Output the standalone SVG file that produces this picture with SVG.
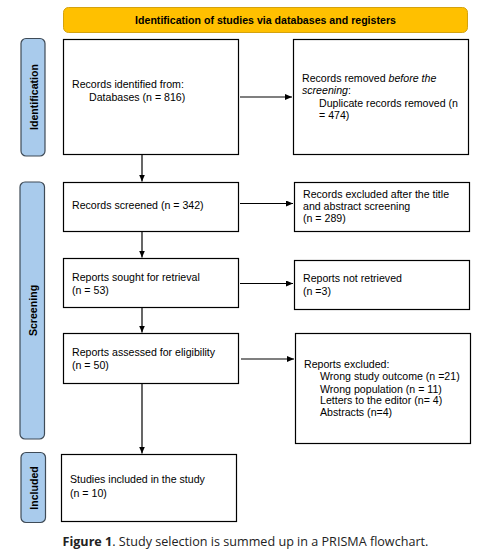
<svg xmlns="http://www.w3.org/2000/svg" width="487" height="559" viewBox="0 0 487 559">
<defs>
<style>
.box{fill:#fff;stroke:#000;stroke-width:1.2}
.side{fill:#a9cbec;stroke:#3f4b57;stroke-width:1.2}
.t{font-family:"Liberation Sans",Arial,sans-serif;font-size:10.6px;fill:#000}
.b{font-weight:bold}
.c{stroke:#000;stroke-width:1.2;fill:none;marker-end:url(#ah)}
.cap{font-family:"Open Sans","Noto Sans",sans-serif;font-size:12.6px;fill:#222}
</style>
<marker id="ah" markerWidth="7" markerHeight="6" refX="7" refY="3" orient="auto" markerUnits="userSpaceOnUse">
<path d="M0,0 L7,3 L0,6 Z" fill="#000"/>
</marker>
</defs>
<rect width="487" height="559" fill="#fff"/>
<g id="banner">
<rect x="63.5" y="7.5" width="404" height="25" rx="5" fill="#ffc000" stroke="#d4a20e" stroke-width="1"/>
<text class="t b" x="265.5" y="23.5" text-anchor="middle">Identification of studies via databases and registers</text>
</g>
<g id="lbl-identification">
<rect class="side" x="21" y="38.5" width="24" height="117.5" rx="5"/>
<text class="t b" transform="translate(37.5,97) rotate(-90)" text-anchor="middle">Identification</text>
</g>
<g id="lbl-screening">
<rect class="side" x="20" y="182" width="24.5" height="257" rx="5"/>
<text class="t b" transform="translate(36.5,310.5) rotate(-90)" text-anchor="middle">Screening</text>
</g>
<g id="lbl-included">
<rect class="side" x="21" y="452.5" width="24.5" height="70" rx="5"/>
<text class="t b" transform="translate(37.5,488) rotate(-90)" text-anchor="middle">Included</text>
</g>
<g id="n-identified">
<rect class="box" x="63.5" y="39.5" width="175" height="115"/>
<text class="t" x="72" y="88">Records identified from:</text>
<text class="t" x="89" y="101">Databases (n = 816)</text>
</g>
<g id="n-removed">
<rect class="box" x="293.5" y="39.5" width="175" height="115"/>
<text class="t" x="302" y="81.5">Records removed <tspan font-style="italic">before the</tspan></text>
<text class="t" x="302" y="94"><tspan font-style="italic">screening</tspan>:</text>
<text class="t" x="319" y="106.5">Duplicate records removed (n</text>
<text class="t" x="319" y="119">= 474)</text>
</g>
<g id="n-screened">
<rect class="box" x="63.5" y="182.5" width="175" height="49"/>
<text class="t" x="72" y="209">Records screened (n = 342)</text>
</g>
<g id="n-excluded1">
<rect class="box" x="294.5" y="182.5" width="175" height="49"/>
<text class="t" x="303" y="198">Records excluded after the title</text>
<text class="t" x="303" y="209.5">and abstract screening</text>
<text class="t" x="303" y="222">(n = 289)</text>
</g>
<g id="n-sought">
<rect class="box" x="63.5" y="258.5" width="175" height="49"/>
<text class="t" x="72" y="280.5">Reports sought for retrieval</text>
<text class="t" x="72" y="293.5">(n = 53)</text>
</g>
<g id="n-notretrieved">
<rect class="box" x="294.5" y="260.5" width="175" height="49"/>
<text class="t" x="303" y="282">Reports not retrieved</text>
<text class="t" x="303" y="294.5">(n =3)</text>
</g>
<g id="n-assessed">
<rect class="box" x="63.5" y="333.5" width="175" height="50"/>
<text class="t" x="72" y="356">Reports assessed for eligibility</text>
<text class="t" x="72" y="369">(n = 50)</text>
</g>
<g id="n-excluded2">
<rect class="box" x="295.5" y="333.5" width="175" height="110"/>
<text class="t" x="304" y="367.5">Reports excluded:</text>
<text class="t" x="320" y="380">Wrong study outcome (n =21)</text>
<text class="t" x="320" y="392.5">Wrong population (n = 11)</text>
<text class="t" x="320" y="404">Letters to the editor (n= 4)</text>
<text class="t" x="320" y="415.5">Abstracts (n=4)</text>
</g>
<g id="n-included">
<rect class="box" x="61.5" y="454.5" width="175" height="67"/>
<text class="t" x="70" y="483">Studies included in the study</text>
<text class="t" x="70" y="497">(n = 10)</text>
</g>
<g id="connectors">
<path class="c" d="M240,97 H292"/>
<path class="c" d="M240,203.5 H293"/>
<path class="c" d="M240,283.5 H293"/>
<path class="c" d="M241,359 H294"/>
<path class="c" d="M142,155 V181.5"/>
<path class="c" d="M142,232 V257.5"/>
<path class="c" d="M142,308 V332.5"/>
<path class="c" d="M142,384 V453.5"/>
</g>
<g id="caption">
<text class="cap" x="62.5" y="545.5"><tspan font-weight="bold">Figure 1</tspan>. Study selection is summed up in a PRISMA flowchart.</text>
</g>
</svg>
